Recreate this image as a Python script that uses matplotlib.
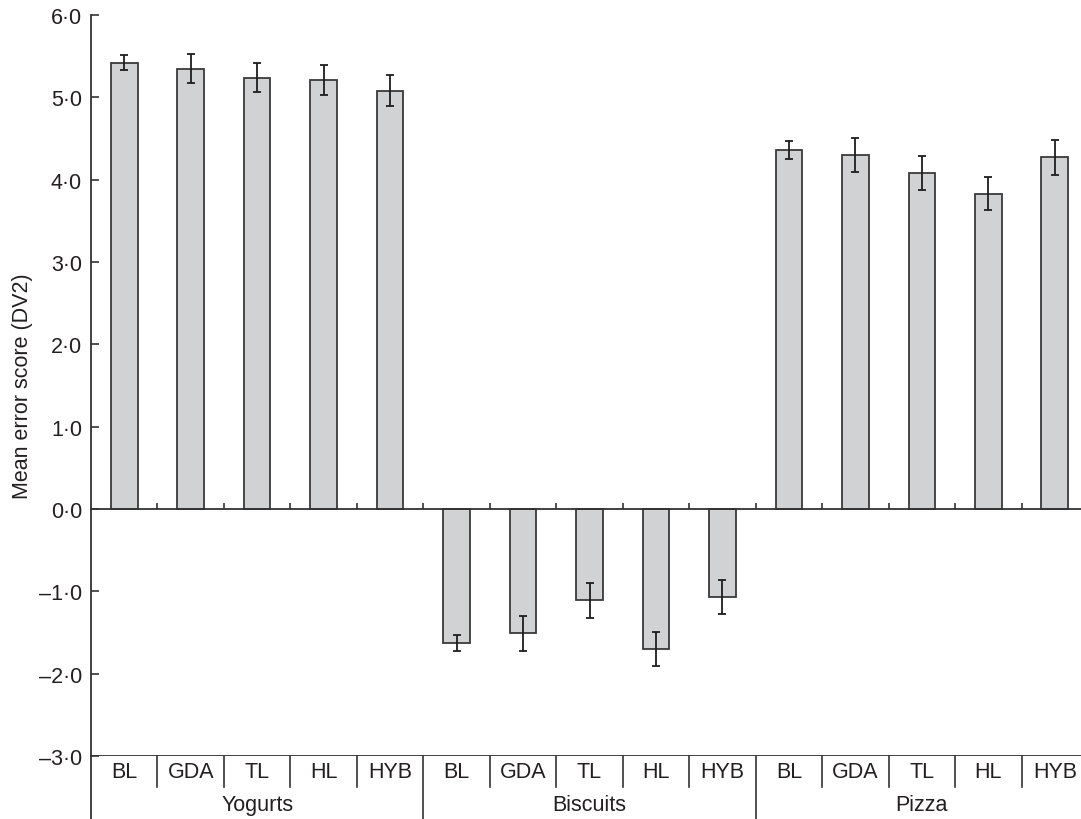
import matplotlib
matplotlib.use("Agg")
import matplotlib.pyplot as plt
import numpy as np

plt.rcParams['font.family'] = ['Liberation Sans', 'DejaVu Sans']

groups = ['Yogurts', 'Biscuits', 'Pizza']
labels = ['BL', 'GDA', 'TL', 'HL', 'HYB']

yogurts_mean = [5.42, 5.35, 5.24, 5.21, 5.08]
yogurts_err = [0.09, 0.18, 0.18, 0.18, 0.19]
biscuits_mean = [-1.63, -1.51, -1.11, -1.70, -1.07]
biscuits_err = [0.10, 0.21, 0.21, 0.21, 0.21]
pizza_mean = [4.36, 4.30, 4.08, 3.83, 4.27]
pizza_err = [0.105, 0.21, 0.21, 0.20, 0.21]

yticks = [-3, -2, -1, 0, 1, 2, 3, 4, 5, 6]

means = yogurts_mean + biscuits_mean + pizza_mean
errs = yogurts_err + biscuits_err + pizza_err
x = np.arange(len(means))

txt = '#231f20'
line = '#333333'
fs = 15.5

W, H = 1081, 820
fig = plt.figure(figsize=(W / 100, H / 100), dpi=100)
# axes from pixel 91 to 1088 (beyond right edge, as in the reference crop)
left, right, top, bottom = 91, 1088, 16, 757
ax = fig.add_axes([left / W, 1 - bottom / H, (right - left) / W, (bottom - top) / H])

ax.bar(x, means, width=0.4, color='#d1d2d4', edgecolor='#3a3a3a', linewidth=1.3, zorder=2)
ax.errorbar(x, means, yerr=errs, fmt='none', ecolor='#1e1e1e', elinewidth=1.3,
            capsize=3, capthick=1.3, zorder=3)

ax.set_xlim(-0.5, len(means) - 0.5)
ax.set_ylim(-3, 6)

# bottom spine sits on zero with small upward ticks between bars
for s in ['top', 'right']:
    ax.spines[s].set_visible(False)
ax.spines['bottom'].set_position(('data', 0))
ax.spines['bottom'].set_color(line)
ax.spines['bottom'].set_linewidth(1.3)
ax.spines['left'].set_color(line)
ax.spines['left'].set_linewidth(1.3)
ax.set_xticks(x[:-1] + 0.5)
ax.tick_params(axis='x', direction='in', length=4.3, width=1.2, color=line, labelbottom=False)

ax.set_yticks(yticks)
ax.set_yticklabels([('–' if v < 0 else '') + '%d·0' % abs(v) for v in yticks])
ax.tick_params(axis='y', direction='in', length=5.8, width=1.2, color=line, pad=6.5,
               labelsize=fs, labelcolor=txt)

ax.set_ylabel('Mean error score (DV2)', fontsize=fs, color=txt)
ax.yaxis.set_label_coords((33 - left) / (right - left), 0.5)

# table at the bottom
ax.axhline(-3, color=line, linewidth=1.3, zorder=1)
trans = ax.get_xaxis_transform()
hpx = bottom - top


def ypx(p):
    return (bottom - p) / hpx


ax.plot([-0.5, -0.5], [0, ypx(830)], transform=trans, color=line, lw=1.3, clip_on=False)
for i in range(len(means) - 1):
    b = i + 0.5
    end = ypx(830) if (i + 1) % len(labels) == 0 else ypx(788)
    ax.plot([b, b], [0, end], transform=trans, color=line, lw=1.2, clip_on=False)

for i in x:
    ax.text(i, ypx(773), labels[i % len(labels)], transform=trans, ha='center', va='center',
            fontsize=fs, color=txt)
for g, name in enumerate(groups):
    ax.text(g * len(labels) + (len(labels) - 1) / 2, ypx(806), name, transform=trans,
            ha='center', va='center', fontsize=fs, color=txt)

fig.savefig('out.png', dpi=100)
